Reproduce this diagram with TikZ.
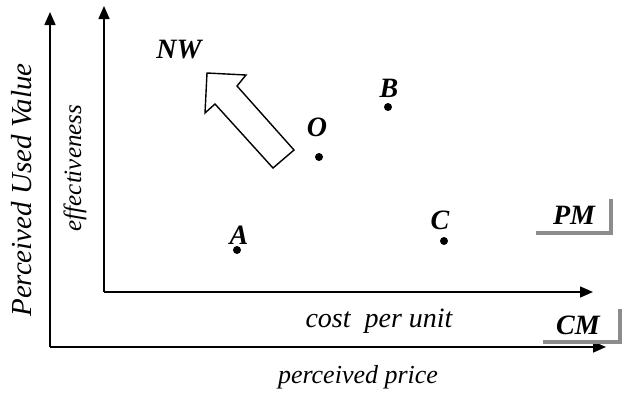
\documentclass[tikz,border=0pt]{standalone}
\usepackage{fontspec}
\setmainfont{Liberation Serif}
\usetikzlibrary{arrows.meta, positioning}
\definecolor{SG}{RGB}{140,140,140}

\begin{document}
\begin{tikzpicture}[x=1pt, y=-1pt,
  axis/.style={-{Triangle[length=13pt, width=11pt]}, line width=1.6pt},
  ttl/.style={font=\fontsize{#1}{#1}\selectfont\itshape, inner sep=0pt},
  pt/.style={circle, fill=black, inner sep=0pt, minimum size=8pt},
  lbl/.style={font=\fontsize{28}{30}\selectfont\bfseries\itshape, inner sep=0pt},
  shd/.style={draw=SG, line width=4pt},
  bigarr/.style={draw=black, line width=1.4pt, line join=miter, fill=white}
]
\useasboundingbox (0,0) rectangle (622,392);

% outer axes
\coordinate (po) at (50,347);
\coordinate (py) at (50,12);
\coordinate (px) at (606,347);
\draw[axis] (po) -- (py);
\draw[axis] (po) -- (px);

% inner axes
\coordinate (co) at (104,292);
\coordinate (cy) at (104,6);
\coordinate (cx) at (593,292);
\draw[axis] (co) -- (cy);
\draw[axis] (co) -- (cx);

% axis titles
\node[ttl=29, rotate=90] (pval) at (22,190) {Perceived Used Value};
\node[ttl=25, rotate=90] (eff)  at (75,168) {effectiveness};
\node[ttl=28] (cost)  at (379,321) {cost\ \ per unit};
\node[ttl=26] (price) at (358,377) {perceived price};

% points
\node[pt] (a) at (237,250) {};
\node[pt] (b) at (388,107) {};
\node[pt] (o) at (319,157) {};
\node[pt] (c) at (444,241) {};
\node[lbl] (la) at (239,235) {A};
\node[lbl] (lb) at (389,88)  {B};
\node[lbl] (lo) at (317,127) {O};
\node[lbl] (lc) at (440,220) {C};
\node[lbl] (nw) at (179,50)  {NW};

% direction arrow
\draw[bigarr] (207,73) -- (246,75) -- (237,86) -- (294,150) -- (273,168)
  -- (215,104) -- (205,113) -- cycle;

% market boxes
\node[lbl] (pm) at (574,215) {PM};
\draw[shd] (611,199) -- (611,233) -- (536,233);
\node[lbl] (cm) at (578,325) {CM};
\draw[shd] (620,309) -- (620,342) -- (543,342);
\end{tikzpicture}
\end{document}
